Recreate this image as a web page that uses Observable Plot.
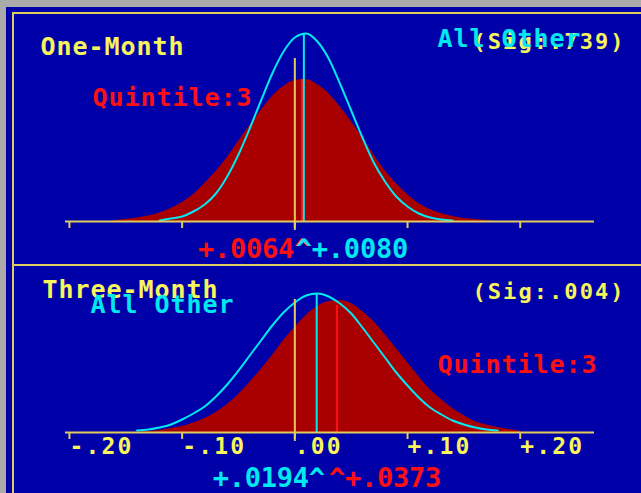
<!DOCTYPE html>
<html><head><meta charset="utf-8">
<script src="https://cdn.jsdelivr.net/npm/d3@7"></script>
<script src="https://cdn.jsdelivr.net/npm/@observablehq/plot@0.6"></script>
<style>
html,body{margin:0;padding:0;overflow:hidden;background:#ABABAB;width:641px;height:493px}
#screen{position:absolute;left:6px;top:7px;width:700px;height:560px;background:#0000A8}
#frame{position:absolute;left:12px;top:12px;width:700px;height:560px;border-left:2px solid #E0CC5C;border-top:2px solid #E0CC5C;box-sizing:border-box}
#divider{position:absolute;left:12px;top:264px;width:700px;height:2px;background:#E0CC5C}
#p1{position:absolute;left:0;top:0}
#p2{position:absolute;left:0;top:266px}
svg text{letter-spacing:2.15px}
g[font-size="25"] text{letter-spacing:0.95px}
g[font-size="27"] text{letter-spacing:-0.25px}
g[font-size="22"] text{letter-spacing:2.06px}
</style></head><body>
<div id="screen"></div><div id="frame"></div><div id="divider"></div>
<div id="p1"></div><div id="p2"></div>
<script>
// ---- data ----
const returnGrid = [-0.16,-0.15,-0.14,-0.13,-0.12,-0.11,-0.10,-0.09,-0.08,-0.07,-0.06,-0.05,-0.04,-0.03,-0.02,-0.01,0,
  0.01,0.02,0.03,0.04,0.05,0.06,0.07,0.08,0.09,0.10,0.11,0.12,0.13,0.14,0.15,0.16,0.17,0.18,0.19,0.20];
const oneMonthQuintile = [1,2,3.5,5.5,8.5,13,19,27,38,50,64,80,96,111,125,135,141,142,137,128,115,100,84,67,51,38,27,18,12,8,5,3,2,1,null,null,null];
const oneMonthOther = [null,null,null,null,1,3,5,10,17,28,45,67,93,121,148,170,184,188,180,163,138,111,84,59,40,25,15,8,4,2,1,null,null,null,null,null,null];
const threeMonthQuintile = [null,null,null,1,2,4,6,9.5,14,20,28,38,50,63,77,92,105,117,126,131,132,129,121,111,98,84,70,56,43,33,24,17,11,7.5,5,3,1.5];
const threeMonthOther = [null,null,2,3,5,8,13,19,26,36,48,62,77,92,107,120,130,137,139,136,129,119,105,90,75,60,47,35,25,18,12,8,5,3,2,null,null];
const panelTitles = ["One-Month", "Three-Month"];
const sigLabels = ["(Sig:.739)", "(Sig:.004)"];
const seriesNames = ["Quintile:3", "All Other"];
const quintileMeans = [0.0064, 0.0373];
const otherMeans = [0.0080, 0.0194];
const quintileMeanText = ["+.0064^", "^+.0373"];
const otherMeanText = ["^+.0080", "+.0194^"];
const quintilePeaks = [142, 127];
const otherPeaks = [188, 139];
const zeroLineTops = [163, 133];
const tickValues = [-0.2, -0.1, 0, 0.1, 0.2];
const tickLabels = ["-.20", "-.10", ".00", "+.10", "+.20"];

// ---- styles / layout ----
const DARKRED = "#A80000", RED = "#FF1010", CYAN = "#00E8F0", TEXTY = "#F8F45C", LINEY = "#E0CC5C";
const quintileSeries = [oneMonthQuintile, threeMonthQuintile];
const otherSeries = [oneMonthOther, threeMonthOther];
const layout = [
  {height: 264, marginBottom: 43, labels: false, meanDy: 17,
   title: [-25, 37], quint: [27, 88], other: [372, 29], sig: [407, 33]},
  {height: 227, marginBottom: 61, labels: true, meanDy: 35,
   title: [-23, 14], quint: [372, 89], other: [25, 29], sig: [407, 17]}
];

function label(text, pos, fill, fontSize) {
  return Plot.text([text], {frameAnchor: "top-left", text: d => d, dx: pos[0], dy: pos[1],
    lineAnchor: "top", textAnchor: "start", fill, fontSize, fontWeight: "bold"});
}
function meanLabel(x, text, fill, dy) {
  const right = text.startsWith("^");
  return Plot.text([{x, text}], {x: "x", y: () => 0, text: "text", dy, dx: right ? -8 : 8,
    textAnchor: right ? "start" : "end", lineAnchor: "top", fill, fontSize: 27, fontWeight: "bold"});
}

function panel(i) {
  const L = layout[i];
  const q = returnGrid.map((x, j) => ({x, y: quintileSeries[i][j]}));
  const o = returnGrid.map((x, j) => ({x, y: otherSeries[i][j]}));
  const marks = [
    Plot.areaY(q, {x: "x", y: "y", fill: DARKRED, curve: "monotone-x"}),
    Plot.line(o, {x: "x", y: "y", stroke: CYAN, strokeWidth: 2, curve: "monotone-x"}),
    Plot.ruleX([{x: 0, top: zeroLineTops[i]}], {x: "x", y1: () => -9, y2: "top", stroke: LINEY, strokeWidth: 2}),
    Plot.ruleX([{x: quintileMeans[i], top: quintilePeaks[i]}], {x: "x", y1: () => 0, y2: "top", stroke: RED, strokeWidth: 2}),
    Plot.ruleX([{x: otherMeans[i], top: otherPeaks[i]}], {x: "x", y1: () => 0, y2: "top", stroke: CYAN, strokeWidth: 2}),
    Plot.ruleY([0], {stroke: LINEY, strokeWidth: 2}),
    Plot.axisX({ticks: tickValues, tickSize: 7, tickFormat: () => "", color: LINEY, strokeWidth: 2, label: null})
  ];
  if (L.labels) marks.push(Plot.axisX({ticks: tickValues, tickSize: 0, tickPadding: 5,
    tickFormat: d => tickLabels[tickValues.indexOf(d)], textAnchor: "start", color: TEXTY, fontSize: 23, label: null}));
  marks.push(
    label(panelTitles[i], L.title, TEXTY, 25),
    label(sigLabels[i], L.sig, TEXTY, 22),
    label(seriesNames[0], L.quint, RED, 25),
    label(seriesNames[1], L.other, CYAN, 25),
    meanLabel(quintileMeans[i], quintileMeanText[i], RED, L.meanDy),
    meanLabel(otherMeans[i], otherMeanText[i], CYAN, L.meanDy)
  );
  return Plot.plot({
    width: 641, height: L.height,
    marginLeft: 65, marginRight: 47, marginTop: 0, marginBottom: L.marginBottom,
    x: {domain: [-0.2035, 0.2659]},
    y: {domain: [0, L.height - L.marginBottom], axis: null},
    style: {background: "transparent", color: TEXTY, fontFamily: "'DejaVu Sans Mono', monospace",
      fontSize: "23px", fontWeight: "bold", overflow: "visible", display: "block"},
    marks
  });
}
document.getElementById("p1").appendChild(panel(0));
document.getElementById("p2").appendChild(panel(1));
</script></body></html>
